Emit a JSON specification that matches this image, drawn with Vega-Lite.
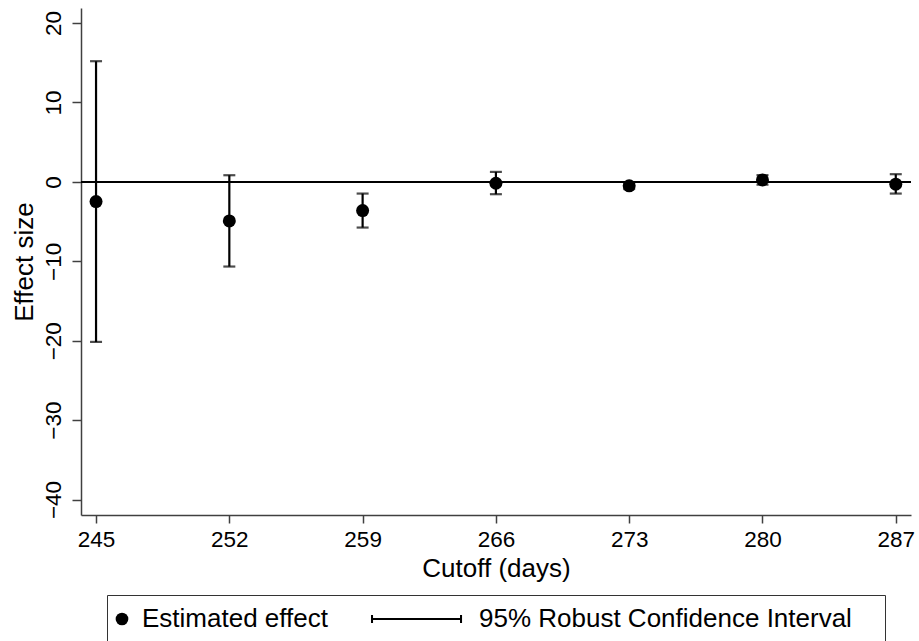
{
  "$schema": "https://vega.github.io/schema/vega-lite/v6.json",
  "autosize": {"type": "none"},
  "width": 830,
  "height": 507,
  "padding": {"left": 81, "top": 8, "right": 8, "bottom": 126},
  "background": "white",
  "config": {
    "view": {"stroke": null},
    "font": "Liberation Sans",
    "axis": {
      "grid": false,
      "domainColor": "#404040",
      "domainWidth": 1.5,
      "tickColor": "#404040",
      "tickWidth": 1.5,
      "labelColor": "black",
      "titleColor": "black",
      "labelFont": "Liberation Sans",
      "titleFont": "Liberation Sans",
      "labelFontSize": 22.5,
      "titleFontSize": 26,
      "titleFontWeight": "normal"
    }
  },
  "data": {
    "values": [
      {"cutoff": 245, "est": -2.48, "lo": -20.15, "hi": 15.2},
      {"cutoff": 252, "est": -4.91, "lo": -10.66, "hi": 0.84},
      {"cutoff": 259, "est": -3.61, "lo": -5.75, "hi": -1.47},
      {"cutoff": 266, "est": -0.17, "lo": -1.55, "hi": 1.26},
      {"cutoff": 273, "est": -0.5, "lo": -0.9, "hi": -0.1},
      {"cutoff": 280, "est": 0.25, "lo": -0.35, "hi": 0.85},
      {"cutoff": 287, "est": -0.29, "lo": -1.47, "hi": 0.97}
    ]
  },
  "encoding": {
    "x": {
      "field": "cutoff",
      "type": "quantitative",
      "scale": {"domain": [244.21, 287.8], "nice": false, "zero": false},
      "axis": {
        "title": "Cutoff (days)",
        "values": [245, 252, 259, 266, 273, 280, 287],
        "format": "d",
        "tickSize": 8,
        "labelPadding": 5,
        "labelBaseline": "top",
        "titleBaseline": "alphabetic",
        "titleY": 61
      }
    }
  },
  "layer": [
    {
      "mark": {"type": "rule", "color": "black", "strokeWidth": 1.5},
      "encoding": {"y": {"datum": 0, "type": "quantitative"}, "x": null}
    },
    {
      "mark": {"type": "rule", "color": "black", "strokeWidth": 2.2},
      "encoding": {
        "y": {
          "field": "lo",
          "type": "quantitative",
          "scale": {"domain": [-41.95, 21.9], "nice": false, "zero": false},
          "axis": {
            "title": "Effect size",
            "values": [-40, -30, -20, -10, 0, 10, 20],
            "tickSize": 9,
            "labelAngle": 270,
            "labelAlign": "center",
            "labelBaseline": "bottom",
            "labelPadding": 7,
            "titleAngle": 270,
            "titleBaseline": "alphabetic",
            "titleX": -48.7
          }
        },
        "y2": {"field": "hi"}
      }
    },
    {
      "mark": {"type": "tick", "orient": "horizontal", "color": "black", "size": 12, "thickness": 2.2},
      "encoding": {"y": {"field": "lo", "type": "quantitative"}}
    },
    {
      "mark": {"type": "tick", "orient": "horizontal", "color": "black", "size": 12, "thickness": 2.2},
      "encoding": {"y": {"field": "hi", "type": "quantitative"}}
    },
    {
      "mark": {"type": "point", "filled": true, "color": "black", "opacity": 1, "size": 169},
      "encoding": {
        "y": {"field": "est", "type": "quantitative"},
        "shape": {
          "datum": "Estimated effect",
          "type": "nominal",
          "scale": {
            "domain": ["Estimated effect", "95% Robust Confidence Interval"],
            "range": [
              "circle",
              "M-13.87,-0.16L0.48,-0.16L0.48,0.16L-13.87,0.16ZM-13.87,-0.63L-13.55,-0.63L-13.55,0.63L-13.87,0.63ZM0.16,-0.63L0.48,-0.63L0.48,0.63L0.16,0.63Z"
            ]
          },
          "legend": {
            "title": " ",
            "titleOrient": "right",
            "titlePadding": 22,
            "titleFontSize": 26,
            "orient": "none",
            "legendX": 26,
            "legendY": 587,
            "direction": "horizontal",
            "padding": 11,
            "strokeColor": "#333333",
            "fillColor": "white",
            "symbolSize": 161,
            "symbolOffset": -9,
            "labelOffset": 7,
            "columnPadding": 43,
            "symbolFillColor": "black",
            "symbolStrokeColor": "transparent",
            "symbolStrokeWidth": 0,
            "symbolOpacity": 1,
            "labelFont": "Liberation Sans",
            "labelFontSize": 26,
            "labelColor": "black",
            "labelLimit": 0,
            "encode": {
              "legend": {"update": {"strokeWidth": {"value": 1.5}}},
              "symbols": {
                "update": {
                  "fill": {"value": "black"},
                  "opacity": {"value": 1}
                }
              }
            }
          }
        }
      }
    }
  ]
}
